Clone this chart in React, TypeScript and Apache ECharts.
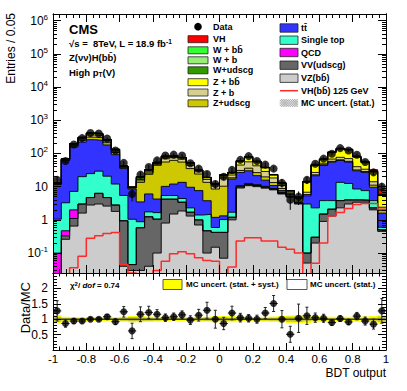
import React, { useEffect, useRef } from "react";
import * as echarts from "echarts";

// ---------------- binning ----------------
const N_BINS = 40;
const X_MIN = -1;
const BIN_W = 0.05;

// ---------------- MC yields (per bin, Entries / 0.05) ----------------
const VZ_BB = [0, 0.26, 0.65, 1.6, 2.8, 3.0, 2.6, 1.8, 0.04, 0.03,
  0.03, 0.04, 0.1, 0.8, 1.5, 1.85, 1.3, 0.7, 0.1, 0.15,
  0.07, 1.0, 9.1, 10.7, 10, 9, 8, 6, 4.8, 3.0,
  0.05, 0.2, 0.9, 1.3, 2.3, 3, 3.4, 3.4, 2.0, 0.45];
const VV_UDSCG = [0, 0.07, 0.45, 1.4, 1.9, 3.3, 2.1, 1.0, 0.9, 0.015,
  0.55, 1.2, 0.95, 3.4, 2.7, 1.55, 0.4, 0.3, 0.37, 0.27,
  0.35, 0.2, 0.8, 0.8, 0.8, 0.7, 0.5, 0.4, 0.3, 0.2,
  0.05, 0.1, 0.6, 0.8, 1.5, 1.0, 0.6, 0.5, 0.3, 0.05];
const QCD = [0.1, 0.14, 0.9, 0, 0, 0, 0, 0, 0, 0,
  0, 0, 0, 0, 0, 0, 0, 0, 0, 0,
  0, 0, 0, 0, 0, 0, 0, 0, 0, 0,
  0, 0, 0, 0, 0, 0, 0, 0, 0, 0];
const SINGLE_TOP = [0.95, 2.8, 5.2, 17, 20, 23, 16, 9.2, 4.5, 1.0,
  0.3, 0.5, 0.6, 1.2, 1.2, 1.0, 0.6, 0.4, 1.0, 0.17,
  0.6, 0.5, 0.9, 1.0, 0.7, 0.5, 0.3, 0.2, 0.1, 0.1,
  2.9, 2.0, 2.3, 1.7, 9.7, 8.5, 4.5, 3.7, 1.5, 0.1];
const TTBAR = [10.5, 58, 150, 200, 235, 220, 160, 80, 30, 7.5,
  2.6, 4.3, 2.6, 4.8, 6.6, 9.1, 7.3, 6.2, 2.3, 0.6,
  0.3, 15.3, 16, 17.5, 10, 5.5, 2, 1.0, 0.6, 0.4,
  2.3, 19, 40, 51, 48, 42.5, 21.5, 19.4, 5.8, 1.0];
const Z_UDSCG = [0.4, 2.5, 14, 30, 50, 50, 30, 14, 2.5, 0.5,
  10, 17.5, 39.7, 45, 50, 41.5, 25.4, 16.4, 9.7, 7.3,
  9, 1.5, 4, 6, 5, 4, 2.5, 1.2, 0.4, 0.3,
  0.5, 1.5, 2, 3, 3, 3, 2, 1.5, 1.5, 0.3];
const Z_B = [0.4, 2, 12, 28, 50, 50, 28, 14, 2, 0.4,
  1.5, 2, 3, 14, 13, 12, 9, 4, 3, 2,
  8, 4, 14, 20, 16, 9, 5, 2, 0.6, 0.4,
  1.0, 4, 5, 10, 12, 12, 8, 5, 3, 0.5];
const Z_BB = [0.3, 1.5, 9, 20, 35, 33, 15, 10, 1.5, 0.2,
  1.5, 2, 3, 8, 6, 6, 6, 2.5, 2, 1.2,
  3, 3, 13, 21, 13, 8, 4.2, 2, 0.6, 0.35,
  7, 17, 15, 38, 60, 57, 38, 19.5, 14, 3.0];
const W_UDSCG = [0.2, 0.8, 3, 5, 10, 9, 4, 2, 0.3, 0.05,
  2, 3.5, 3, 4, 3, 2, 1.5, 0.8, 0.4, 0.2,
  0.8, 0.8, 1.5, 2, 1.5, 0.8, 0.3, 0.1, 0.05, 0.03,
  0.2, 0.8, 0.7, 1.5, 2, 2, 1, 0.5, 0.3, 0.1];
const W_B = [0.1, 0.5, 2, 3, 6, 5, 2.5, 1.2, 0.2, 0.03,
  0.8, 1, 1, 1.5, 1, 0.7, 0.5, 0.3, 0.15, 0.1,
  0.5, 0.5, 0.7, 1, 0.8, 0.4, 0.2, 0.07, 0.05, 0.02,
  0.2, 0.8, 0.7, 1.2, 1.5, 1.5, 1, 0.5, 0.3, 0.1];
const W_BB = [0.1, 0.4, 1.5, 2, 4, 4, 1.5, 0.8, 0.1, 0.02,
  0.7, 0.8, 0.7, 1, 0.7, 0.5, 0.4, 0.2, 0.1, 0.05,
  0.4, 0.3, 0.5, 0.7, 0.5, 0.3, 0.1, 0.05, 0.05, 0.02,
  0.2, 1.5, 1, 1.5, 2, 2.5, 1.5, 1, 0.5, 0.3];
// VH(bb) 125 GeV signal (stacked as "VH" and drawn as a line)
const VH_SIGNAL = [0, 0, 0.036, 0.08, 0.28, 0.33, 0.39, 0.42, 0.045, 0.025,
  0, 0, 0.03, 0.057, 0.095, 0.11, 0.095, 0.072, 0.06, 0.057,
  0.02, 0.038, 0.23, 0.29, 0.29, 0.23, 0.23, 0.15, 0.13, 0.1,
  0.02, 0.049, 0.2, 1.3, 1.66, 2.2, 2.9, 3.1, 3.1, 2.1];

// ---------------- data ----------------
const DATA = [16, 59, 187, 290, 415, 400, 282, 123, 52, 6,
  23, 39, 62, 87, 92, 87, 51, 35, 24, 12,
  20, 32, 64, 83, 59, 46, 35, 13, 4, 5,
  16, 49, 70, 98, 145, 123, 91, 55, 27, 10];
const DATA_ERR = [4, 7.7, 13.7, 17, 20.4, 20, 16.8, 11.1, 7.2, 2.4,
  4.8, 6.2, 7.9, 9.3, 9.6, 9.3, 7.1, 5.9, 4.9, 3.5,
  4.5, 5.7, 8, 9.1, 7.7, 6.8, 5.9, 3.6, 2, 2.2,
  4, 7, 8.4, 9.9, 12, 11.1, 9.5, 7.4, 5.2, 3.2];

// ---------------- ratio panel ----------------
const RATIO = [1.27, 0.86, 0.94, 0.94, 1.0, 1.0, 1.08, 0.92, 1.24, 0.62,
  1.16, 1.22, 1.16, 1.05, 1.08, 1.14, 0.97, 1.13, 1.29, 1.0,
  0.86, 1.2, 1.05, 1.03, 1.0, 1.2, 1.51, 1.0, 0.51, 1.03,
  1.11, 1.05, 1.03, 0.89, 1.02, 0.91, 1.1, 0.94, 0.84, 1.27];
const RATIO_ERR = [0.33, 0.12, 0.08, 0.06, 0.05, 0.05, 0.07, 0.09, 0.17, 0.25,
  0.24, 0.2, 0.15, 0.12, 0.12, 0.13, 0.14, 0.19, 0.26, 0.29,
  0.2, 0.22, 0.14, 0.12, 0.13, 0.18, 0.26, 0.28, 0.26, 0.46,
  0.28, 0.15, 0.13, 0.09, 0.09, 0.08, 0.12, 0.13, 0.16, 0.4];
const BAND_TOTAL = [0.14, 0.08, 0.07, 0.06, 0.06, 0.06, 0.07, 0.07, 0.08, 0.1,
  0.1, 0.09, 0.08, 0.07, 0.07, 0.07, 0.07, 0.08, 0.08, 0.1,
  0.1, 0.1, 0.08, 0.07, 0.07, 0.08, 0.09, 0.1, 0.12, 0.13,
  0.12, 0.1, 0.09, 0.08, 0.08, 0.08, 0.08, 0.09, 0.1, 0.13];
const BAND_STAT = [0.08, 0.04, 0.03, 0.02, 0.02, 0.02, 0.03, 0.03, 0.05, 0.07,
  0.06, 0.05, 0.04, 0.03, 0.03, 0.03, 0.04, 0.04, 0.05, 0.06,
  0.06, 0.05, 0.03, 0.03, 0.03, 0.04, 0.05, 0.06, 0.08, 0.09,
  0.07, 0.04, 0.03, 0.03, 0.02, 0.02, 0.03, 0.03, 0.05, 0.09];
const CHI2_DOF = "0.74";

// ---------------- axes ----------------
const Y_LOG_MIN = -1.6;
const Y_LOG_MAX = 6.2;
const Y_DECADES = [-1, 0, 1, 2, 3, 4, 5, 6];
const RATIO_LABELS = [0.5, 1, 1.5, 2];

// ---------------- legend texts ----------------
const LEG_LEFT = ["Data", "VH", "W + b\u0062\u0304", "W + b", "W+udscg", "Z + b\u0062\u0304", "Z + b", "Z+udscg"];
const LEG_RIGHT = ["t\u0074\u0304", "Single top", "QCD", "VV(udscg)", "VZ(b\u0062\u0304)", "VH(b\u0062\u0304) 125 GeV", "MC uncert. (stat.)"];

// ---------------- styles ----------------
const FONT = "'Liberation Sans', Arial, Helvetica, 'DejaVu Sans', sans-serif";
const C = {
  vh: "#ff0000", wbb: "#33ff33", wb: "#99ee77", wudscg: "#339900",
  zbb: "#ffff00", zb: "#d6cf8f", zudscg: "#cdc800",
  tt: "#3333ff", st: "#33ffcc", qcd: "#ff00ff", vv: "#666666", vz: "#cccccc",
};
const LOG_FLOOR = -3;

function hatchLines(x: number, y: number, w: number, h: number, step: number, color: string) {
  const out: any[] = [];
  for (let t = -h; t < w; t += step) {
    let x0 = x + t, y0 = y + h, x1 = x + t + h, y1 = y;
    if (x0 < x) { y0 -= x - x0; x0 = x; }
    if (x1 > x + w) { y1 += x1 - (x + w); x1 = x + w; }
    out.push({ type: "line", shape: { x1: x0, y1: y0, x2: x1, y2: y1 }, style: { stroke: color, lineWidth: 0.6 }, silent: true });
    let a0 = x + t, b0 = y, a1 = x + t + h, b1 = y + h;
    if (a0 < x) { b0 += x - a0; a0 = x; }
    if (a1 > x + w) { b1 -= a1 - (x + w); a1 = x + w; }
    out.push({ type: "line", shape: { x1: a0, y1: b0, x2: a1, y2: b1 }, style: { stroke: color, lineWidth: 0.6 }, silent: true });
  }
  return out;
}

function buildOption() {
  const edges = Array.from({ length: N_BINS + 1 }, (_, i) => +(X_MIN + i * BIN_W).toFixed(4));
  const centers = edges.slice(0, N_BINS).map((e) => e + BIN_W / 2);
  const lg = (v: number) => (v > 0 ? Math.log10(v) : LOG_FLOOR);

  const layers = [
    { name: "VZ(bb)", vals: VZ_BB, color: C.vz },
    { name: "VV(udscg)", vals: VV_UDSCG, color: C.vv },
    { name: "QCD", vals: QCD, color: C.qcd },
    { name: "Single top", vals: SINGLE_TOP, color: C.st },
    { name: "ttbar", vals: TTBAR, color: C.tt },
    { name: "Z+udscg", vals: Z_UDSCG, color: C.zudscg },
    { name: "Z+b", vals: Z_B, color: C.zb },
    { name: "Z+bb", vals: Z_BB, color: C.zbb },
    { name: "W+udscg", vals: W_UDSCG, color: C.wudscg },
    { name: "W+b", vals: W_B, color: C.wb },
    { name: "W+bb", vals: W_BB, color: C.wbb },
    { name: "VH", vals: VH_SIGNAL, color: C.vh },
  ];
  let run = new Array(N_BINS).fill(0);
  const cums: number[][] = layers.map((l) => {
    run = run.map((r, i) => r + l.vals[i]);
    return run;
  });
  const stepPts = (vals: number[], f: (v: number) => number) => {
    const d = vals.map((v, i) => [edges[i], f(v)]);
    d.push([edges[N_BINS], f(vals[N_BINS - 1])]);
    return d;
  };

  const stackSeries = layers
    .map((l, k) => ({
      type: "line",
      name: l.name,
      xAxisIndex: 0,
      yAxisIndex: 0,
      step: "end",
      symbol: "none",
      silent: true,
      clip: true,
      z: 2,
      data: stepPts(cums[k], lg),
      lineStyle: { color: "#000", width: 0.9 },
      areaStyle: { color: l.color, opacity: 1, origin: "start" },
    }))
    .reverse();

  const signalSeries = {
    type: "line",
    name: "VH(bb) 125 GeV",
    xAxisIndex: 0,
    yAxisIndex: 0,
    step: "end",
    symbol: "none",
    silent: true,
    clip: true,
    z: 3,
    data: stepPts(VH_SIGNAL, lg),
    lineStyle: { color: "#ff2a2a", width: 1.5 },
  };

  const dataErrSeries = {
    type: "custom",
    xAxisIndex: 0,
    yAxisIndex: 0,
    z: 4,
    silent: true,
    clip: true,
    data: centers.map((c, i) => [c, lg(DATA[i] - DATA_ERR[i]), lg(DATA[i] + DATA_ERR[i])]),
    renderItem: (_p: any, api: any) => {
      const a = api.coord([api.value(0), api.value(1)]);
      const b = api.coord([api.value(0), api.value(2)]);
      return { type: "line", shape: { x1: a[0], y1: a[1], x2: b[0], y2: b[1] }, style: { stroke: "#000", lineWidth: 1 } };
    },
  };
  const dataSeries = {
    type: "scatter",
    xAxisIndex: 0,
    yAxisIndex: 0,
    z: 5,
    silent: true,
    symbol: "circle",
    symbolSize: 8,
    itemStyle: { color: "#000" },
    data: centers.map((c, i) => [c, lg(DATA[i])]),
  };

  const bandSeries = (band: number[], fill: string, zz: number) => ({
    type: "custom",
    xAxisIndex: 2,
    yAxisIndex: 4,
    z: zz,
    silent: true,
    clip: true,
    data: [[0, 1]],
    renderItem: (_p: any, api: any) => {
      const pts: number[][] = [];
      for (let i = 0; i < N_BINS; i++) {
        pts.push(api.coord([edges[i], 1 + band[i]]));
        pts.push(api.coord([edges[i + 1], 1 + band[i]]));
      }
      for (let i = N_BINS - 1; i >= 0; i--) {
        pts.push(api.coord([edges[i + 1], 1 - band[i]]));
        pts.push(api.coord([edges[i], 1 - band[i]]));
      }
      return { type: "polygon", shape: { points: pts }, style: { fill, stroke: "none" } };
    },
  });

  const ratioLine = {
    type: "line",
    xAxisIndex: 2,
    yAxisIndex: 4,
    symbol: "none",
    silent: true,
    z: 4,
    data: [[X_MIN, 1], [X_MIN + N_BINS * BIN_W, 1]],
    lineStyle: { color: "#000", width: 1 },
  };
  const ratioErr = {
    type: "custom",
    xAxisIndex: 2,
    yAxisIndex: 4,
    z: 5,
    silent: true,
    clip: true,
    data: centers.map((c, i) => [c, RATIO[i] - RATIO_ERR[i], RATIO[i] + RATIO_ERR[i], RATIO[i]]),
    renderItem: (_p: any, api: any) => {
      const x = api.value(0);
      const lo = api.coord([x, api.value(1)]);
      const hi = api.coord([x, api.value(2)]);
      const l = api.coord([x - BIN_W / 2, api.value(3)]);
      const r = api.coord([x + BIN_W / 2, api.value(3)]);
      const st = { stroke: "#222", lineWidth: 1 };
      return {
        type: "group",
        children: [
          { type: "line", shape: { x1: lo[0], y1: lo[1], x2: hi[0], y2: hi[1] }, style: st },
          { type: "line", shape: { x1: lo[0] - 1.5, y1: lo[1], x2: lo[0] + 1.5, y2: lo[1] }, style: st },
          { type: "line", shape: { x1: hi[0] - 1.5, y1: hi[1], x2: hi[0] + 1.5, y2: hi[1] }, style: st },
          { type: "line", shape: { x1: l[0], y1: l[1], x2: r[0], y2: r[1] }, style: st },
        ],
      };
    },
  };
  const ratioPts = {
    type: "scatter",
    xAxisIndex: 2,
    yAxisIndex: 4,
    z: 6,
    silent: true,
    symbol: "circle",
    symbolSize: 7,
    itemStyle: { color: "#000" },
    data: centers.map((c, i) => [c, RATIO[i]]),
  };

  // ---------- axes ----------
  const lineBlack = { color: "#000", width: 1 };
  const xAx = (grid: number, pos: string, labels: boolean, major: number, minor: number) => ({
    type: "value",
    gridIndex: grid,
    position: pos,
    min: X_MIN,
    max: X_MIN + N_BINS * BIN_W,
    interval: 0.2,
    z: 10,
    axisLine: { show: true, onZero: false, lineStyle: lineBlack },
    axisTick: { show: true, inside: true, length: major, lineStyle: lineBlack },
    minorTick: { show: true, splitNumber: 5, length: minor, lineStyle: lineBlack },
    splitLine: { show: false },
    minorSplitLine: { show: false },
    axisLabel: labels
      ? { show: true, color: "#000", fontSize: 11.5, fontFamily: FONT, margin: 3 }
      : { show: false },
  });

  const minorLog: number[] = [];
  for (let n = -2; n <= 6; n++) {
    for (let k = 2; k <= 9; k++) {
      const v = n + Math.log10(k);
      if (v > Y_LOG_MIN && v < Y_LOG_MAX) minorLog.push(v);
    }
  }
  const yLogAx = (pos: string, ticks: number[], len: number, labels: boolean) => ({
    type: "value",
    gridIndex: 0,
    position: pos,
    min: Y_LOG_MIN,
    max: Y_LOG_MAX,
    z: 10,
    axisLine: { show: true, onZero: false, lineStyle: lineBlack },
    axisTick: { show: true, inside: true, length: len, customValues: ticks, lineStyle: lineBlack },
    splitLine: { show: false },
    axisLabel: labels
      ? {
          show: true,
          customValues: Y_DECADES,
          color: "#000",
          fontSize: 12,
          fontFamily: FONT,
          margin: 5,
          formatter: (v: number) => {
            const n = Math.round(v);
            if (n === 0) return "1";
            if (n === 1) return "10";
            return "10{sup|" + n + "}";
          },
          rich: { sup: { fontSize: 8, fontFamily: FONT, color: "#000", verticalAlign: "top", padding: [0, 0, 7, 0] } },
        }
      : { show: false },
  });
  const yRatioAx = (pos: string, labels: boolean) => ({
    type: "value",
    gridIndex: 1,
    position: pos,
    min: 0,
    max: 2.5,
    interval: 0.5,
    z: 10,
    axisLine: { show: true, onZero: false, lineStyle: lineBlack },
    axisTick: { show: true, inside: true, length: 8, lineStyle: lineBlack },
    minorTick: { show: true, splitNumber: 5, length: 4, lineStyle: lineBlack },
    splitLine: { show: false },
    minorSplitLine: { show: false },
    axisLabel: labels
      ? { show: true, customValues: RATIO_LABELS, color: "#000", fontSize: 12, fontFamily: FONT, margin: 5 }
      : { show: false },
  });

  // ---------- graphic (texts, legends) ----------
  const g: any[] = [];
  const txt = (x: number, y: number, text: string, size: number, extra: any = {}) => ({
    type: "text",
    x,
    y,
    silent: true,
    z: 20,
    style: {
      text,
      fill: "#000",
      fontSize: size,
      fontFamily: FONT,
      fontWeight: "bold",
      textVerticalAlign: "middle",
      ...extra,
    },
  });
  g.push({ type: "text", x: 11, y: 13, rotation: Math.PI / 2, silent: true,
    style: { text: "Entries / 0.05", fill: "#000", fontSize: 12, fontFamily: FONT, textAlign: "right", textVerticalAlign: "middle" } });
  g.push({ type: "text", x: 25, y: 282, rotation: Math.PI / 2, silent: true,
    style: { text: "Data/MC", fill: "#000", fontSize: 13, fontFamily: FONT, textAlign: "right", textVerticalAlign: "middle" } });
  g.push({ type: "text", x: 386, y: 373, silent: true,
    style: { text: "BDT output", fill: "#000", fontSize: 12, fontFamily: FONT, textAlign: "right", textVerticalAlign: "middle" } });

  g.push(txt(69, 29, "CMS", 13));
  g.push(txt(69, 43, "\u221As =  8TeV, L = 18.9 fb{sup|-1}", 9.5, { rich: { sup: { fontSize: 6.5, fontWeight: "bold", fontFamily: FONT, verticalAlign: "top" } } }));
  g.push(txt(69, 57, "Z(\u03BD\u03BD)H(b\u0062\u0304)", 9.5));
  g.push(txt(69, 72, "High p{sub|T}(V)", 9.5, { rich: { sub: { fontSize: 6.5, fontWeight: "bold", fontFamily: FONT, verticalAlign: "bottom", padding: [5, 0, 0, 0] } } }));

  const leftY = [26.7, 39.2, 50.3, 60.3, 70.3, 82.2, 92.5, 103.3];
  const leftCol = [null, C.vh, C.wbb, C.wb, C.wudscg, C.zbb, C.zb, C.zudscg];
  LEG_LEFT.forEach((label, i) => {
    const y = leftY[i];
    if (i === 0) {
      g.push({ type: "circle", shape: { cx: 198, cy: y, r: 3.8 }, style: { fill: "#000" }, silent: true, z: 20 });
    } else {
      g.push({ type: "rect", shape: { x: 188, y: y - 3.5, width: 20, height: 7 }, style: { fill: leftCol[i] as string, stroke: "#222", lineWidth: 0.8 }, silent: true, z: 20 });
    }
    g.push(txt(213, y, label, 9));
  });
  const rightY = [28, 40.2, 52.5, 65.2, 78.2, 90.7, 103];
  const rightCol = [C.tt, C.st, C.qcd, C.vv, C.vz];
  LEG_RIGHT.forEach((label, i) => {
    const y = rightY[i];
    if (i < 5) {
      g.push({ type: "rect", shape: { x: 280, y: y - 4.2, width: 18, height: 8.4 }, style: { fill: rightCol[i], stroke: "#222", lineWidth: 0.8 }, silent: true, z: 20 });
    } else if (i === 5) {
      g.push({ type: "line", shape: { x1: 280, y1: y, x2: 298, y2: y }, style: { stroke: "#ff2a2a", lineWidth: 1.5 }, silent: true, z: 20 });
    } else {
      g.push({ type: "group", z: 20, silent: true, children: hatchLines(280, y - 3.8, 18, 7.6, 2.2, "#888") });
    }
    g.push(txt(301, y, label, 9));
  });

  g.push(txt(70, 285, "\u03C7{sup|2}/ {it|dof} = " + CHI2_DOF, 8, {
    rich: {
      sup: { fontSize: 6, fontWeight: "bold", fontFamily: FONT, verticalAlign: "top" },
      it: { fontSize: 8, fontWeight: "bold", fontStyle: "italic", fontFamily: FONT },
    },
  }));
  g.push({ type: "rect", shape: { x: 163, y: 279.5, width: 19, height: 10 }, style: { fill: "#ffff00", stroke: "#333", lineWidth: 0.8 }, silent: true, z: 20 });
  g.push({ type: "group", z: 20, silent: true, children: hatchLines(163, 279.5, 19, 10, 2.4, "#c8c800") });
  g.push(txt(186, 284.5, "MC uncert. (stat. + syst.)", 8));
  g.push({ type: "rect", shape: { x: 287, y: 279.5, width: 20, height: 10 }, style: { fill: "#fff", stroke: "#333", lineWidth: 0.8 }, silent: true, z: 20 });
  g.push({ type: "group", z: 21, silent: true, children: hatchLines(287, 279.5, 20, 10, 2.2, "#777") });
  g.push(txt(310, 284.5, "MC uncert. (stat.)", 8));

  return {
    animation: false,
    backgroundColor: "#fff",
    grid: [
      { left: 53, top: 14, width: 333, height: 259 },
      { left: 53, top: 273, width: 333, height: 77 },
    ],
    xAxis: [
      xAx(0, "bottom", false, 8, 4),
      xAx(0, "top", false, 8, 4),
      xAx(1, "bottom", true, 7, 3.5),
      xAx(1, "top", false, 7, 3.5),
    ],
    yAxis: [
      yLogAx("left", Y_DECADES, 8, true),
      yLogAx("left", minorLog, 4, false),
      yLogAx("right", Y_DECADES, 8, false),
      yLogAx("right", minorLog, 4, false),
      yRatioAx("left", true),
      yRatioAx("right", false),
    ],
    series: [
      ...stackSeries,
      signalSeries,
      dataErrSeries,
      dataSeries,
      bandSeries(BAND_TOTAL, "#ffff00", 2),
      bandSeries(BAND_STAT, "rgba(150,150,110,0.55)", 3),
      ratioLine,
      ratioErr,
      ratioPts,
    ],
    graphic: g,
  };
}

export default function App() {
  const ref = useRef<HTMLDivElement>(null);
  useEffect(() => {
    if (!ref.current) return;
    const chart = echarts.init(ref.current, null, { renderer: "svg" });
    chart.setOption(buildOption() as any);
    return () => chart.dispose();
  }, []);
  return <div ref={ref} style={{ position: "absolute", left: 0, top: 0, width: 407, height: 391 }} />;
}
